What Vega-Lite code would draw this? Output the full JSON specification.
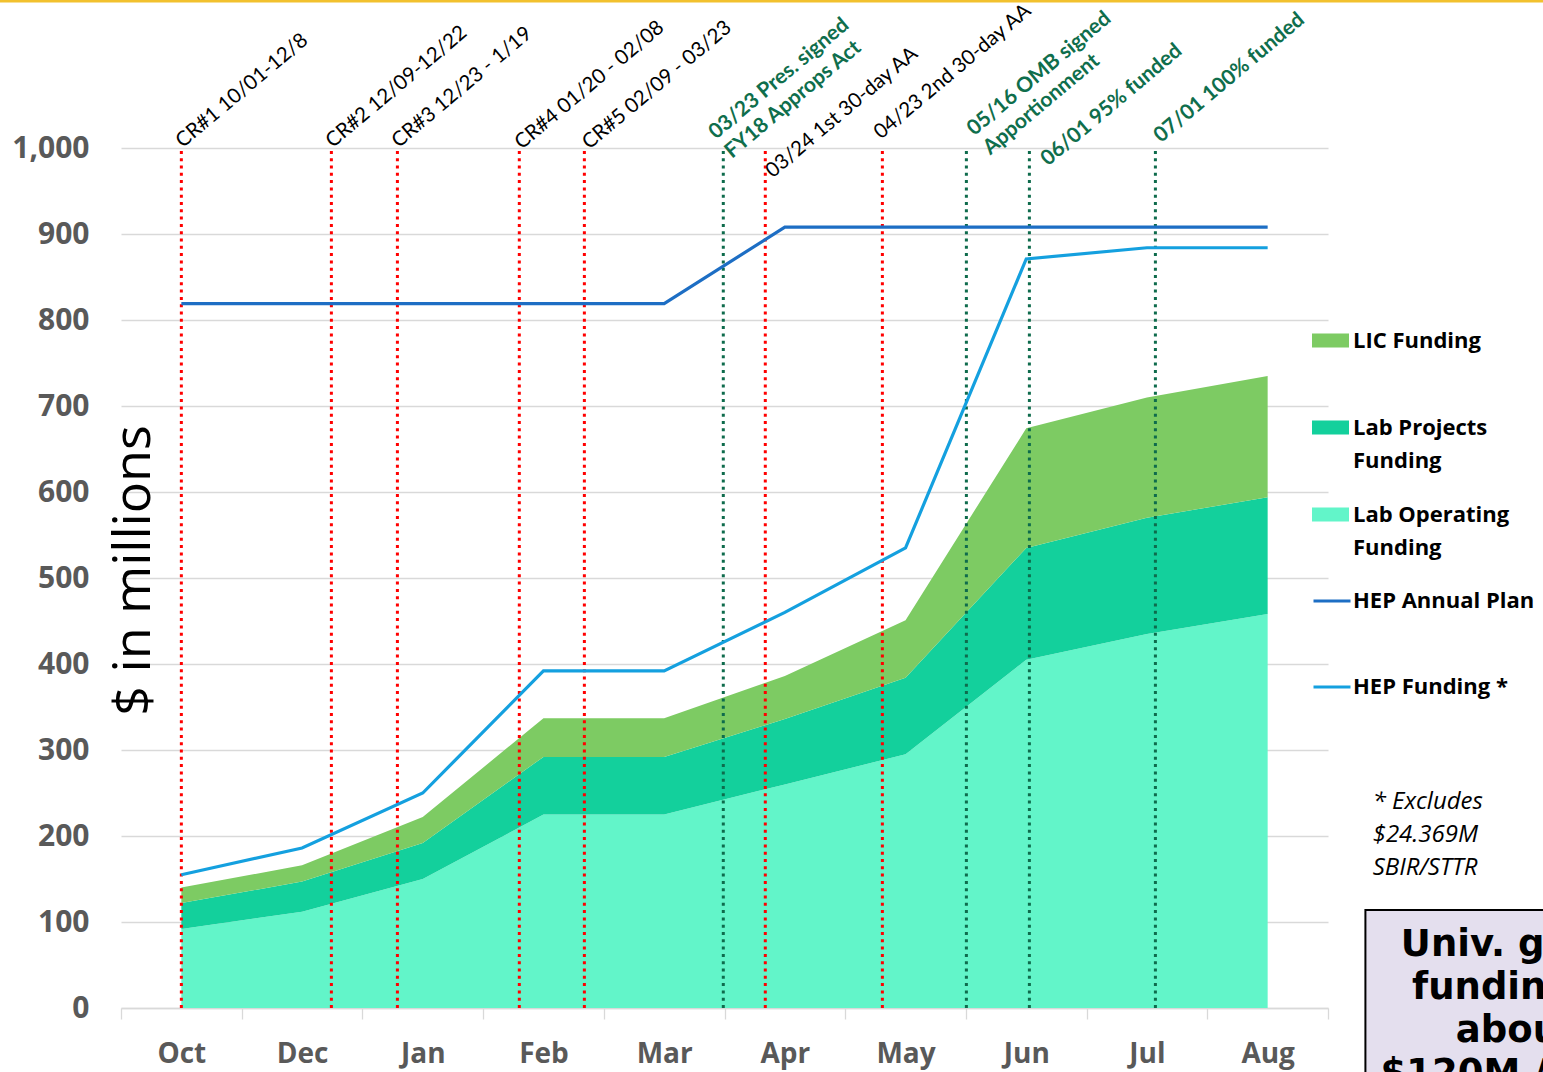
{
  "$schema": "https://vega.github.io/schema/vega-lite/v6.json",
  "width": 1207,
  "height": 860,
  "autosize": {"type": "none"},
  "padding": {"left": 121, "top": 148, "right": 215, "bottom": 64},
  "background": "white",
  "config": {"view": {"stroke": null}, "font": "Open Sans"},
  "datasets": {
    "stack": [
      {"i": 0, "m": "Oct", "s": "Lab Operating Funding", "rank": 1, "v": 92},
      {"i": 1, "m": "Dec", "s": "Lab Operating Funding", "rank": 1, "v": 112},
      {"i": 2, "m": "Jan", "s": "Lab Operating Funding", "rank": 1, "v": 150},
      {"i": 3, "m": "Feb", "s": "Lab Operating Funding", "rank": 1, "v": 225},
      {"i": 4, "m": "Mar", "s": "Lab Operating Funding", "rank": 1, "v": 225},
      {"i": 5, "m": "Apr", "s": "Lab Operating Funding", "rank": 1, "v": 260},
      {"i": 6, "m": "May", "s": "Lab Operating Funding", "rank": 1, "v": 295},
      {"i": 7, "m": "Jun", "s": "Lab Operating Funding", "rank": 1, "v": 405},
      {"i": 8, "m": "Jul", "s": "Lab Operating Funding", "rank": 1, "v": 435},
      {"i": 9, "m": "Aug", "s": "Lab Operating Funding", "rank": 1, "v": 458},
      {"i": 0, "m": "Oct", "s": "Lab Projects Funding", "rank": 2, "v": 30},
      {"i": 1, "m": "Dec", "s": "Lab Projects Funding", "rank": 2, "v": 35},
      {"i": 2, "m": "Jan", "s": "Lab Projects Funding", "rank": 2, "v": 42},
      {"i": 3, "m": "Feb", "s": "Lab Projects Funding", "rank": 2, "v": 67},
      {"i": 4, "m": "Mar", "s": "Lab Projects Funding", "rank": 2, "v": 67},
      {"i": 5, "m": "Apr", "s": "Lab Projects Funding", "rank": 2, "v": 76},
      {"i": 6, "m": "May", "s": "Lab Projects Funding", "rank": 2, "v": 89},
      {"i": 7, "m": "Jun", "s": "Lab Projects Funding", "rank": 2, "v": 130},
      {"i": 8, "m": "Jul", "s": "Lab Projects Funding", "rank": 2, "v": 135},
      {"i": 9, "m": "Aug", "s": "Lab Projects Funding", "rank": 2, "v": 136},
      {"i": 0, "m": "Oct", "s": "LIC Funding", "rank": 3, "v": 18},
      {"i": 1, "m": "Dec", "s": "LIC Funding", "rank": 3, "v": 19},
      {"i": 2, "m": "Jan", "s": "LIC Funding", "rank": 3, "v": 30},
      {"i": 3, "m": "Feb", "s": "LIC Funding", "rank": 3, "v": 45},
      {"i": 4, "m": "Mar", "s": "LIC Funding", "rank": 3, "v": 45},
      {"i": 5, "m": "Apr", "s": "LIC Funding", "rank": 3, "v": 50},
      {"i": 6, "m": "May", "s": "LIC Funding", "rank": 3, "v": 67},
      {"i": 7, "m": "Jun", "s": "LIC Funding", "rank": 3, "v": 139},
      {"i": 8, "m": "Jul", "s": "LIC Funding", "rank": 3, "v": 140},
      {"i": 9, "m": "Aug", "s": "LIC Funding", "rank": 3, "v": 141}
    ],
    "lines": [
      {"i": 0, "m": "Oct", "s": "HEP Annual Plan", "v": 819},
      {"i": 1, "m": "Dec", "s": "HEP Annual Plan", "v": 819},
      {"i": 2, "m": "Jan", "s": "HEP Annual Plan", "v": 819},
      {"i": 3, "m": "Feb", "s": "HEP Annual Plan", "v": 819},
      {"i": 4, "m": "Mar", "s": "HEP Annual Plan", "v": 819},
      {"i": 5, "m": "Apr", "s": "HEP Annual Plan", "v": 908},
      {"i": 6, "m": "May", "s": "HEP Annual Plan", "v": 908},
      {"i": 7, "m": "Jun", "s": "HEP Annual Plan", "v": 908},
      {"i": 8, "m": "Jul", "s": "HEP Annual Plan", "v": 908},
      {"i": 9, "m": "Aug", "s": "HEP Annual Plan", "v": 908},
      {"i": 0, "m": "Oct", "s": "HEP Funding *", "v": 155},
      {"i": 1, "m": "Dec", "s": "HEP Funding *", "v": 186},
      {"i": 2, "m": "Jan", "s": "HEP Funding *", "v": 250},
      {"i": 3, "m": "Feb", "s": "HEP Funding *", "v": 392},
      {"i": 4, "m": "Mar", "s": "HEP Funding *", "v": 392},
      {"i": 5, "m": "Apr", "s": "HEP Funding *", "v": 460},
      {"i": 6, "m": "May", "s": "HEP Funding *", "v": 535},
      {"i": 7, "m": "Jun", "s": "HEP Funding *", "v": 871},
      {"i": 8, "m": "Jul", "s": "HEP Funding *", "v": 884},
      {"i": 9, "m": "Aug", "s": "HEP Funding *", "v": 884}
    ],
    "events": [
      {"pos": 0.0, "kind": "CR", "label": "CR#1 10/01-12/8", "lx": 0.032, "ly": 996},
      {"pos": 1.243, "kind": "CR", "label": "CR#2 12/09-12/22", "lx": 1.275, "ly": 996},
      {"pos": 1.79, "kind": "CR", "label": "CR#3 12/23 - 1/19", "lx": 1.822, "ly": 996},
      {"pos": 2.8, "kind": "CR", "label": "CR#4 01/20 - 02/08", "lx": 2.841, "ly": 994},
      {"pos": 3.339, "kind": "CR", "label": "CR#5 02/09 - 03/23", "lx": 3.4, "ly": 994},
      {"pos": 4.49, "kind": "milestone", "label": "03/23 Pres. signed\nFY18 Approps Act", "lx": 4.45, "ly": 1006},
      {"pos": 4.838, "kind": "CR", "label": "03/24 1st 30-day AA", "lx": 4.921, "ly": 961},
      {"pos": 5.808, "kind": "CR", "label": "04/23 2nd 30-day AA", "lx": 5.818, "ly": 1006},
      {"pos": 6.504, "kind": "milestone", "label": "05/16 OMB signed\nApportionment", "lx": 6.59, "ly": 1010},
      {"pos": 7.026, "kind": "milestone", "label": "06/01 95% funded", "lx": 7.201, "ly": 975},
      {"pos": 8.07, "kind": "milestone", "label": "07/01 100% funded", "lx": 8.138, "ly": 1002}
    ]
  },
  "layer": [
    {
      "data": {"values": [{"x": -1.6, "x2": 11.4, "y": 1171}]},
      "mark": {"type": "rule", "stroke": "#f2c12e", "strokeWidth": 3, "clip": false},
      "encoding": {
        "x": {"field": "x", "type": "quantitative"},
        "x2": {"field": "x2"},
        "y": {"field": "y", "type": "quantitative"}
      }
    },
    {
      "data": {"name": "stack"},
      "mark": {"type": "area", "opacity": 1},
      "encoding": {
        "x": {
          "field": "i", "type": "quantitative",
          "scale": {"domain": [-0.5, 9.5], "nice": false, "zero": false},
          "axis": {
            "title": null,
            "values": [-0.5, 0, 0.5, 1, 1.5, 2, 2.5, 3, 3.5, 4, 4.5, 5, 5.5, 6, 6.5, 7, 7.5, 8, 8.5, 9, 9.5],
            "labelExpr": "datum.value % 1 === 0 ? ['Oct','Dec','Jan','Feb','Mar','Apr','May','Jun','Jul','Aug'][datum.value] : ''",
            "labelOverlap": false,
            "labelFlush": false,
            "grid": false,
            "domainColor": "#d9d9d9",
            "domainWidth": 1.3,
            "tickColor": "#d9d9d9",
            "tickWidth": 1.3,
            "tickSize": 11,
            "tickOpacity": {"condition": {"test": "datum.value % 1 === 0", "value": 0}, "value": 1},
            "labelFont": "Open Sans",
            "labelFontSize": 28,
            "labelFontWeight": "bold",
            "labelColor": "#595959",
            "labelPadding": 21
          }
        },
        "y": {
          "field": "v", "type": "quantitative", "stack": "zero",
          "scale": {"domain": [0, 1000], "nice": false},
          "axis": {
            "title": "$ in millions",
            "values": [0, 100, 200, 300, 400, 500, 600, 700, 800, 900, 1000],
            "format": ",d",
            "grid": true,
            "gridColor": "#d9d9d9",
            "gridWidth": 1.3,
            "domain": false,
            "ticks": false,
            "labelFont": "Open Sans",
            "labelFontSize": 30,
            "labelFontWeight": "bold",
            "labelColor": "#595959",
            "labelPadding": 32,
            "titleFont": "Open Sans",
            "titleFontSize": 52,
            "titleFontWeight": "normal",
            "titleColor": "#000000",
            "titleAngle": 270,
            "titleX": 28,
            "titleY": 422,
            "titleAlign": "center",
            "titleBaseline": "alphabetic"
          }
        },
        "color": {
          "field": "s", "type": "nominal",
          "scale": {"domain": ["LIC Funding", "Lab Projects Funding", "Lab Operating Funding"], "range": ["#7dcb63", "#13d09c", "#62f5c9"]},
          "legend": {
            "title": null,
            "orient": "none",
            "direction": "vertical",
            "legendX": 1191,
            "legendY": 149.5,
            "padding": 0,
            "clipHeight": 86,
            "rowPadding": 0,
            "gridAlign": "all",
            "symbolType": "M-1,-0.38H1V0.38H-1Z",
            "symbolSize": 1369,
            "symbolStrokeWidth": 0,
            "symbolOpacity": 1,
            "labelFont": "Open Sans",
            "labelFontSize": 22,
            "labelFontWeight": "bold",
            "labelColor": "#000000",
            "labelOffset": 4,
            "labelLimit": 400,
            "labelBaseline": "top",
            "labelExpr": "datum.label === 'Lab Projects Funding' ? ['Lab Projects', 'Funding'] : datum.label === 'Lab Operating Funding' ? ['Lab Operating', 'Funding'] : [datum.label]",
            "encode": {"labels": {"update": {"dy": {"value": -10}, "lineHeight": {"value": 33}}}}
          }
        },
        "order": {"field": "rank", "type": "quantitative"}
      }
    },
    {
      "data": {"name": "events"},
      "mark": {"type": "rule", "strokeWidth": 3, "strokeDash": [3, 4.3]},
      "encoding": {
        "x": {"field": "pos", "type": "quantitative"},
        "y": {"datum": 0, "type": "quantitative"},
        "y2": {"datum": 1000},
        "stroke": {"condition": {"test": "datum.kind === 'CR'", "value": "#ff0000"}, "value": "#0e6b4c"}
      }
    },
    {
      "data": {"name": "lines"},
      "mark": {"type": "line", "strokeWidth": 3.2},
      "encoding": {
        "x": {"field": "i", "type": "quantitative"},
        "y": {"field": "v", "type": "quantitative", "stack": null},
        "stroke": {
          "field": "s", "type": "nominal",
          "scale": {"domain": ["HEP Annual Plan", "HEP Funding *"], "range": ["#1d6ec4", "#14a0df"]},
          "legend": {
            "title": null,
            "orient": "none",
            "direction": "vertical",
            "legendX": 1191,
            "legendY": 410,
            "padding": 0,
            "clipHeight": 86,
            "rowPadding": 0,
            "gridAlign": "all",
            "symbolType": "stroke",
            "symbolSize": 1369,
            "symbolStrokeWidth": 3,
            "labelFont": "Open Sans",
            "labelFontSize": 22,
            "labelFontWeight": "bold",
            "labelColor": "#000000",
            "labelOffset": 1,
            "labelLimit": 400,
            "labelBaseline": "top",
            "encode": {"labels": {"update": {"dy": {"value": -10}}}}
          }
        }
      }
    },
    {
      "data": {"name": "events"},
      "transform": [{"filter": "datum.kind === 'CR'"}],
      "mark": {"type": "text", "align": "left", "baseline": "bottom", "angle": 320, "font": "Lato", "fontSize": 20.5, "lineBreak": "\n", "lineHeight": 24, "fill": "#000000", "clip": false},
      "encoding": {
        "x": {"field": "lx", "type": "quantitative"},
        "y": {"field": "ly", "type": "quantitative"},
        "text": {"field": "label"}
      }
    },
    {
      "data": {"name": "events"},
      "transform": [{"filter": "datum.kind === 'milestone'"}],
      "mark": {"type": "text", "align": "left", "baseline": "bottom", "angle": 320, "font": "Lato", "fontSize": 21, "fontWeight": "bold", "lineBreak": "\n", "lineHeight": 25, "fill": "#0f6e4c", "clip": false},
      "encoding": {
        "x": {"field": "lx", "type": "quantitative"},
        "y": {"field": "ly", "type": "quantitative"},
        "text": {"field": "label"}
      }
    },
    {
      "data": {"values": [{"x": 9.87, "y": 253, "t": "* Excludes\n$24.369M\nSBIR/STTR"}]},
      "mark": {"type": "text", "align": "left", "baseline": "top", "font": "Open Sans", "fontSize": 24, "fontStyle": "italic", "lineBreak": "\n", "lineHeight": 33, "fill": "#000000", "clip": false},
      "encoding": {
        "x": {"field": "x", "type": "quantitative"},
        "y": {"field": "y", "type": "quantitative"},
        "text": {"field": "t"}
      }
    },
    {
      "data": {"values": [{"x": 9.81, "x2": 12.5, "y": 114, "y2": -120}]},
      "mark": {"type": "rect", "fill": "#e4dfee", "stroke": "#000000", "strokeWidth": 2, "clip": false},
      "encoding": {
        "x": {"field": "x", "type": "quantitative"},
        "x2": {"field": "x2"},
        "y": {"field": "y", "type": "quantitative"},
        "y2": {"field": "y2"}
      }
    },
    {
      "data": {"values": [{"x": 11.06, "y": 94, "t": "Univ. grant\nfunding is\nabout\n$120M / year"}]},
      "mark": {"type": "text", "align": "center", "baseline": "top", "font": "DejaVu Sans", "fontSize": 37, "fontWeight": "bold", "lineBreak": "\n", "lineHeight": 43, "fill": "#000000", "clip": false},
      "encoding": {
        "x": {"field": "x", "type": "quantitative"},
        "y": {"field": "y", "type": "quantitative"},
        "text": {"field": "t"}
      }
    }
  ]
}
